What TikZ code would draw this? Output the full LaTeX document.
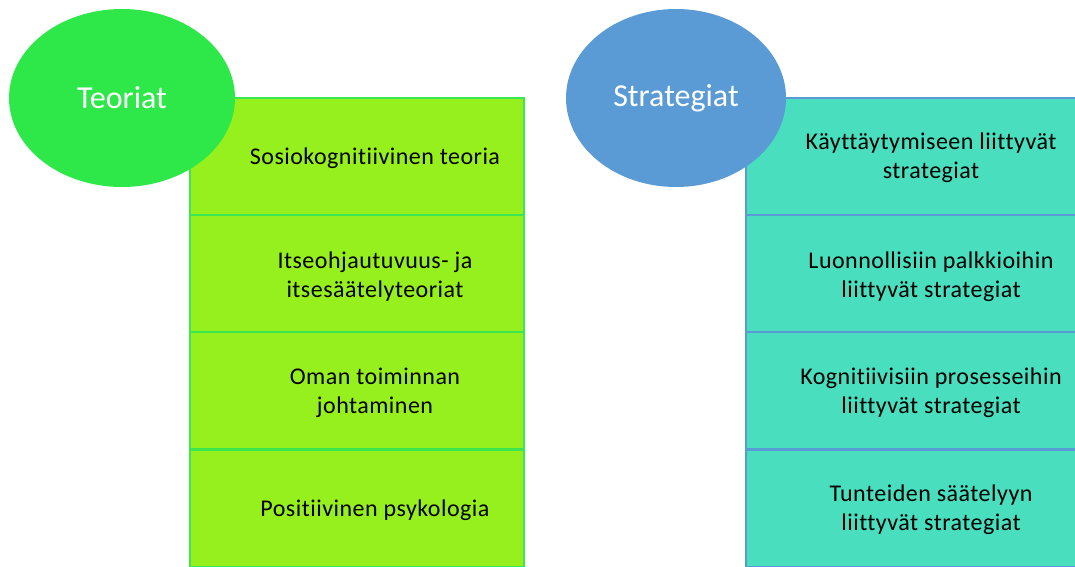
\documentclass[tikz,border=0pt]{standalone}
\usepackage{fontspec}
\setmainfont[Ligatures=NoCommon]{Carlito}
\definecolor{teorgreen}{RGB}{46,232,74}
\definecolor{limefill}{RGB}{150,240,30}
\definecolor{limeedge}{RGB}{60,230,80}
\definecolor{stratblue}{RGB}{91,155,213}
\definecolor{tealfill}{RGB}{72,222,190}
\tikzset{
  lbox/.style={draw=limeedge,fill=limefill,line width=2pt,minimum width=334pt,minimum height=117pt,inner sep=0pt,anchor=north west},
  rbox/.style={draw=stratblue,fill=tealfill,line width=2pt,minimum width=360pt,minimum height=117pt,inner sep=0pt,anchor=north west},
  boxtext/.style={font=\fontsize{24}{29}\selectfont\addfontfeatures{LetterSpace=2},align=center,text=black},
  head/.style={ellipse,minimum width=226pt,minimum height=178pt,inner sep=0pt,text=white,font=\fontsize{32}{36}\selectfont}
}
\usetikzlibrary{shapes.geometric}
\begin{document}
\begin{tikzpicture}[x=1pt,y=-1pt]
  \useasboundingbox (0,0) rectangle (1075,566);
  \clip (0,0) rectangle (1075,566);

  % theories column
  \node[lbox] (t1) at (189,97) {};
  \node[lbox] (t2) at (189,214) {};
  \node[lbox] (t3) at (189,331) {};
  \node[lbox] (t4) at (189,449) {};
  \node[boxtext] (t1txt) at (375,158) {Sosiokognitiivinen teoria};
  \node[boxtext] (t2txt) at (375,277) {Itseohjautuvuus- ja\\itsesäätelyteoriat};
  \node[boxtext] (t3txt) at (375,393) {Oman toiminnan\\johtaminen};
  \node[boxtext] (t4txt) at (375,510) {Positiivinen psykologia};
  \node[head,fill=teorgreen] (teoriat) at (122,98) {Teoriat};

  % strategies column
  \node[rbox] (s1) at (745,97) {};
  \node[rbox] (s2) at (745,214) {};
  \node[rbox] (s3) at (745,331) {};
  \node[rbox] (s4) at (745,449) {};
  \node[boxtext] (s1txt) at (931,158) {Käyttäytymiseen liittyvät\\strategiat};
  \node[boxtext] (s2txt) at (931,277) {Luonnollisiin palkkioihin\\liittyvät strategiat};
  \node[boxtext] (s3txt) at (931,393) {Kognitiivisiin prosesseihin\\liittyvät strategiat};
  \node[boxtext] (s4txt) at (931,510) {Tunteiden säätelyyn\\liittyvät strategiat};
  \node[head,minimum width=220pt,fill=stratblue] (strategiat) at (676,98) {Strategiat};
\end{tikzpicture}
\end{document}
